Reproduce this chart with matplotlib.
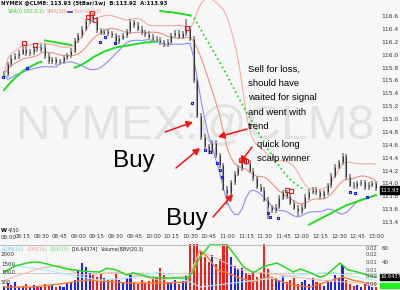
import matplotlib
matplotlib.use("Agg")
import matplotlib.pyplot as plt
import numpy as np
import pandas as pd

# ---------------- data ----------------
bar_step_min = 3  # minutes between bars, bars start 08:00
closes = [115.70, 115.85, 115.95, 115.98, 116.03, 116.09, 116.02, 116.04, 116.10, 116.08,
          116.12, 115.98, 115.90, 115.93, 115.88, 115.90, 115.96, 115.99, 116.06, 116.22,
          116.30, 116.40, 116.52, 116.60, 116.55, 116.38, 116.34, 116.36, 116.33, 116.30,
          116.21, 116.26, 116.30, 116.36, 116.50, 116.46, 116.40, 116.35, 116.32, 116.28,
          116.25, 116.23, 116.19, 116.16, 116.20, 116.30, 116.34, 116.28, 116.33, 116.40,
          116.25, 115.60, 115.05, 114.72, 114.58, 114.50, 114.63, 114.44, 114.28, 113.92,
          113.85, 114.02, 114.15, 114.24, 114.36, 114.32, 114.20, 114.08, 113.95, 113.90,
          113.75, 113.63, 113.58, 113.64, 113.78, 113.86, 113.80, 113.70, 113.62, 113.57,
          113.64, 113.79, 113.87, 113.90, 113.86, 113.80, 113.86, 113.97, 114.12, 114.26,
          114.33, 114.42, 114.10, 113.98, 113.96, 114.00, 114.02, 113.94, 113.98, 114.00,
          113.93]
extra_high = {23: 116.68, 49: 116.56, 34: 116.56, 91: 114.47}
extra_low = {60: 113.66, 71: 113.45, 79: 113.50}

sar = [115.45, 115.52, 115.58, 115.64, 115.69, 115.74, 115.78, 115.81, 115.84, 115.87, 115.89,
       116.22, 116.21, 116.20, 116.19, 116.18, 116.17, 116.16, 116.15,
       115.80, 115.82, 115.85, 115.88, 115.92, 115.96, 115.99, 116.02, 116.05, 116.07, 116.09,
       116.11, 116.12, 116.13, 116.14, 116.15, 116.16, 116.17, 116.18, 116.19, 116.19, 116.20, 116.20,
       116.68, 116.67, 116.66, 116.66, 116.65, 116.64, 116.63, 116.62, 116.61,
       116.58, 116.48, 116.38, 116.28, 116.18, 116.08, 115.98, 115.88, 115.78, 115.67, 115.56,
       115.45, 115.34, 115.23, 115.13, 115.03, 114.93, 114.83, 114.73, 114.63, 114.53, 114.44,
       114.35, 114.27, 114.19, 114.12, 114.06, 114.01, 113.97, 113.93, 113.90,
       113.36, 113.39, 113.42, 113.45, 113.48, 113.51, 113.54, 113.57, 113.60, 113.63, 113.66,
       113.68, 113.70, 113.72, 113.74, 113.76, 113.78, 113.80, 113.82]
sar_segments = [0, 11, 19, 42, 82, 101]

volumes = [300, 450, 350, 500, 250, 300, 400, 200, 350, 300,
           250, 400, 300, 350, 200, 300, 250, 450, 500, 600,
           1100, 1550, 1350, 1000, 900, 800, 1000, 700, 600, 650,
           950, 600, 500, 700, 900, 500, 400, 600, 450, 550,
           700, 800, 1300, 900, 500, 450, 600, 400, 550, 900,
           2600, 2600, 2600, 2300, 1900, 1600, 2000, 1500, 1800, 2600,
           2600, 1900, 1400, 1200, 1300, 1000, 900, 1100, 800, 1000,
           2600, 1200, 800, 700, 600, 900, 500, 600, 700, 400,
           500, 600, 400, 700, 500, 450, 300, 600, 500, 900,
           700, 1450, 600, 400, 300, 350, 250, 400, 300, 200,
           250]

adx_min = [0, 9, 21, 29, 41, 51, 65, 77, 83, 90, 99, 104, 118, 131, 148, 152, 158, 166, 180,
           185, 193, 201, 209, 220, 228, 233, 239, 247, 255, 260, 271, 277, 285, 293, 300]
adx_val = [28, 36, 41, 41, 36, 32, 29, 28, 33, 31, 24, 27, 21, 20, 20, 27, 48, 64, 64,
           53, 35, 27, 35, 40, 33, 28, 32, 27, 21, 24, 40, 31, 28, 24, 21]

vma_min = [0, 23, 45, 67, 77, 101, 126, 148, 152, 158, 164, 172, 180, 188, 201, 212, 220,
           233, 247, 265, 273, 281, 293, 300]
vma_val = [220, 220, 390, 610, 560, 440, 440, 500, 1170, 2280, 1890, 1170, 1000, 780, 500,
           780, 610, 330, 220, 610, 780, 610, 440, 390]

pdi_min = [0, 13, 33, 53, 77, 101, 126, 150, 158, 239, 263, 287, 300]
pdi_val = [41, 35, 31, 24, 17, 20, 28, 15, 8, 24, 28, 20, 17]
mdi_min = [0, 29, 45, 61, 93, 126, 150, 158, 170, 190, 223, 255, 300]
mdi_val = [17, 33, 37, 24, 28, 17, 24, 57, 47, 31, 24, 17, 12]

red_sig_min = [16.1, 25.0, 67.7, 71.0, 73.4, 147.6, 191.0, 195.0, 228.0, 231.5]
red_sig_price = [116.18, 116.15, 116.58, 116.65, 116.54, 116.41, 114.36, 114.35, 113.90, 113.88]
blue_sig_min = [-0.8, 18.5, 77.4, 81.5, 89.5, 151.6, 162.0, 166.0, 171.8, 174.0, 175.8,
                213.0, 214.5, 221.0, 279.0, 283.0, 292.7]
blue_sig_price = [115.65, 115.79, 116.20, 116.27, 116.18, 115.25, 114.52, 114.49, 114.32,
                  114.21, 114.10, 113.54, 113.48, 113.46, 113.87, 113.85, 113.79]

time_labels = ["08:00", "08:15", "08:30", "08:45", "09:00", "09:15", "09:30", "09:45", "10:00",
               "10:15", "10:30", "10:45", "11:00", "11:15", "11:30", "11:45", "12:00", "12:15",
               "12:30", "12:45", "13:00"]
price_ticks = [113.4, 113.6, 113.8, 114.0, 114.2, 114.4, 114.6, 114.8, 115.0, 115.2, 115.4,
               115.6, 115.8, 116.0, 116.2, 116.4, 116.6]
vol_ticks = [500, 1000, 1500, 2000]
dmi_ticks = [40, 60]
last_price = "113.93"
adx_last = "16.6437"

# ---------------- layout ----------------
W, H = 400, 290
BG = "#f7f7f7"
fig = plt.figure(figsize=(W / 100, H / 100), dpi=100, facecolor=BG)
PLOT_R = 378
MAIN_B = 232
ax = fig.add_axes([0, 1 - MAIN_B / H, PLOT_R / W, MAIN_B / H], facecolor=BG)
axl = fig.add_axes([0, 0, PLOT_R / W, 46 / H], facecolor=BG)

PX_PER_MIN = 1.24
PX_PER_PRICE = 64.4
ax.set_xlim((0 - 4) / PX_PER_MIN, (PLOT_R - 4) / PX_PER_MIN)
ax.set_ylim(116.6 - (MAIN_B - 16) / PX_PER_PRICE, 116.6 + 16 / PX_PER_PRICE)
axl.set_xlim(ax.get_xlim())

def A(x, y):  # pixel -> main axes fraction
    return (x / PLOT_R, (MAIN_B - y) / MAIN_B)

for a in (ax, axl):
    for s in a.spines.values():
        s.set_visible(False)

n = len(closes)
t = np.arange(n) * bar_step_min
c = np.array(closes)
o = np.concatenate([[c[0]], c[:-1]])
hi = np.maximum(o, c) + 0.04
lo = np.minimum(o, c) - 0.04
for k, v in extra_high.items():
    hi[k] = v
for k, v in extra_low.items():
    lo[k] = v

# watermark
ax.text(*A(15, 139), "NYMEX:@CLM8", transform=ax.transAxes, fontsize=34.5,
        family="Liberation Sans", color="#e2e2e2", va="baseline", ha="left", zorder=0)

# indicators
cs = pd.Series(c)
sma = cs.rolling(10, min_periods=1).mean()
bm = cs.rolling(15, min_periods=1).mean()
bs = cs.rolling(15, min_periods=1).std().fillna(0)
ax.plot(t, bm + 1.5 * bs, color="#f6aaa2", lw=0.8, zorder=2)
ax.plot(t, sma, color="#f09080", lw=0.8, zorder=2)
ax.plot(t, bm - 1.5 * bs, color="#8c8cff", lw=0.8, zorder=2)

sar_a = np.array(sar)
for s0, s1 in zip(sar_segments[:-1], sar_segments[1:]):
    if s0 == 42:
        ax.plot(t[s0:51], sar_a[s0:51], color="#22dd22", lw=1.4, zorder=3)
        ax.plot(t[50:s1], sar_a[50:s1], color="#22dd22", lw=1.3, ls=(0, (1, 1.6)), zorder=3)
    else:
        ax.plot(t[s0:s1], sar_a[s0:s1], color="#22dd22", lw=1.4, zorder=3)

# price bars
ax.vlines(t, lo, hi, color="#9a9a9a", lw=1.5, zorder=4)
ax.vlines(t, np.minimum(o, c), np.maximum(o, c), color="#222222", lw=0.6, zorder=5)

ax.plot(red_sig_min, red_sig_price, ls="none", marker="s", ms=2.2, mfc="none",
        mec="#ff1010", mew=0.8, zorder=6)
ax.plot(blue_sig_min, blue_sig_price, ls="none", marker="s", ms=2.0, mfc="none",
        mec="#1010ff", mew=0.8, zorder=6)

# axes ticks
ax.yaxis.tick_right()
ax.set_yticks(price_ticks)
ax.set_yticklabels([f"{p:.1f}" for p in price_ticks])
ax.tick_params(axis="y", length=0, pad=2.5, labelsize=4.3, labelcolor="#333333")
ax.set_xticks(np.arange(len(time_labels)) * 15)
ax.set_xticklabels([""] + time_labels[1:])
ax.tick_params(axis="x", length=0, pad=1.8, labelsize=4.0, labelcolor="#333333")
fig.text(0.5 / W, 1 - 237.5 / H, time_labels[0], fontsize=4.0, va="center", ha="left",
         color="#333333")

# last price box
ax.text(1.007, (MAIN_B - 190) / MAIN_B, last_price, transform=ax.transAxes, fontsize=3.9,
        color="white", va="center", ha="left",
        bbox=dict(boxstyle="square,pad=0.2", fc="black", ec="black"))

# header
fig.text(1 / W, 1 - 4 / H, "NYMEX @CLM8: 113.93 (5tBar/1w)  B:113.92  A:113.93",
         fontsize=3.9, va="center", ha="left", color="#111111", fontweight="bold")
fig.text(8 / W, 1 - 12 / H, "SAR(0.002,0.2)", fontsize=3.5, va="center", color="#33cc33")
fig.text(47 / W, 1 - 12 / H, "SMA(30)", fontsize=3.5, va="center", color="#f08878")
fig.add_artist(plt.Line2D([68 / W, 72 / W], [1 - 12 / H] * 2, color="#3030ff", lw=1.2))
fig.text(73 / W, 1 - 12 / H, "Boll(40,1.5)", fontsize=3.5, va="center", color="#f0a0a0")
fig.text(1 / W, 1 - 230 / H, "W", fontsize=4.0, va="center", fontweight="bold")
fig.text(8 / W, 1 - 230 / H, "4/30", fontsize=3.8, va="center", color="#333333")

# annotations
sans = "Liberation Sans"
ax.text(*A(113, 167), "Buy", transform=ax.transAxes, fontsize=17.5, family=sans,
        va="baseline", ha="left", zorder=8)
ax.text(*A(166, 225), "Buy", transform=ax.transAxes, fontsize=17.5, family=sans,
        va="baseline", ha="left", zorder=8)
ax.text(*A(248, 65), "Sell for loss,\nshould have\nwaited for signal\nand went with\ntrend",
        transform=ax.transAxes, fontsize=6.8, family=sans, va="top", ha="left",
        linespacing=1.75, zorder=8)
ax.text(*A(257, 140), "quick long\nscalp winner", transform=ax.transAxes, fontsize=6.8,
        family=sans, va="top", ha="left", linespacing=1.65, zorder=8)
arrows = [((165, 132), (193, 122)), ((176, 168), (200, 148)), ((247, 129), (218, 137)),
          ((252, 147), (240, 163)), ((213, 217), (233, 194))]
for (x0, y0), (x1, y1) in arrows:
    ax.annotate("", xy=A(x1, y1), xytext=A(x0, y0), xycoords="axes fraction",
                textcoords="axes fraction",
                arrowprops=dict(arrowstyle="-|>,head_length=0.38,head_width=0.2",
                                color="#ff1010", lw=1.1, shrinkA=0, shrinkB=0), zorder=9)

# ---------------- lower panel ----------------
axl.set_ylim(55.6, 2611)
axl.set_xticks([])
axl.set_yticks([])
vcol = ["#2020ff" if c[i] >= o[i] else "#ff1a1a" for i in range(n)]
axl.bar(t, volumes, width=1.7, color=vcol, zorder=2)
axl.axhline(1000, color="#999999", lw=0.6, ls=(0, (1.5, 1.5)), zorder=1)
axl.plot(vma_min, vma_val, color="#ff7a20", lw=1.0, zorder=4)
axd = axl.twinx()
for s in axd.spines.values():
    s.set_visible(False)
axd.set_ylim(4, 65.3)
axd.set_yticks([])
axd.plot(pdi_min, pdi_val, color="#a8eeff", lw=0.8, zorder=1)
axd.plot(mdi_min, mdi_val, color="#ffb8a8", lw=0.8, zorder=1)
axd.plot(adx_min, adx_val, color="#22dd22", lw=1.1, zorder=3)
axd.axvline(axd.get_xlim()[1], color="#ff3030", lw=0.8, ls=(0, (1, 1)))

fig.add_artist(plt.Line2D([0, PLOT_R / W], [1 - 244.5 / H] * 2, color="#bbbbbb", lw=0.7))
for v in vol_ticks:
    yy = 291 - 0.018 * v
    fig.text(1 / W, 1 - yy / H, str(v), fontsize=4.0, va="center", color="#333333")
for v in dmi_ticks:
    yy = 293 - 0.75 * v
    fig.text(382 / W, 1 - yy / H, str(v), fontsize=4.0, va="center", color="#333333")
for lab, yy in zip(["0.02", "0.02", "0.01", "0.01", "0.00", "0.00"], [248, 255, 263, 270, 277, 284]):
    fig.text(377 / W, 1 - yy / H, lab, fontsize=3.8, va="center", ha="right", color="#444444")
fig.text(380.5 / W, 1 - 277 / H, adx_last, fontsize=3.6, va="center", color="white",
         bbox=dict(boxstyle="square,pad=0.15", fc="black", ec="black"))
fig.add_artist(plt.Rectangle((380 / W, 1 - 288 / H), 19 / W, 5 / H, color="#22ee22",
                             transform=fig.transFigure))

renderer = fig.canvas.get_renderer()
lx = 1.0
for lab, col in [("+DMI(14)", "#66ccee"), ("-DMI(14)", "#f0a090"), ("ADX(14)", "#66dd66"),
                 ("[16.64374]", "#222222"), ("Volume(BBV(20,3)", "#222222")]:
    tt = fig.text(lx / W, 1 - 249 / H, lab, fontsize=3.4, va="center", color=col)
    bb = tt.get_window_extent(renderer)
    lx = bb.x1 + 2.5

fig.savefig("out.png", dpi=100, facecolor=BG)
